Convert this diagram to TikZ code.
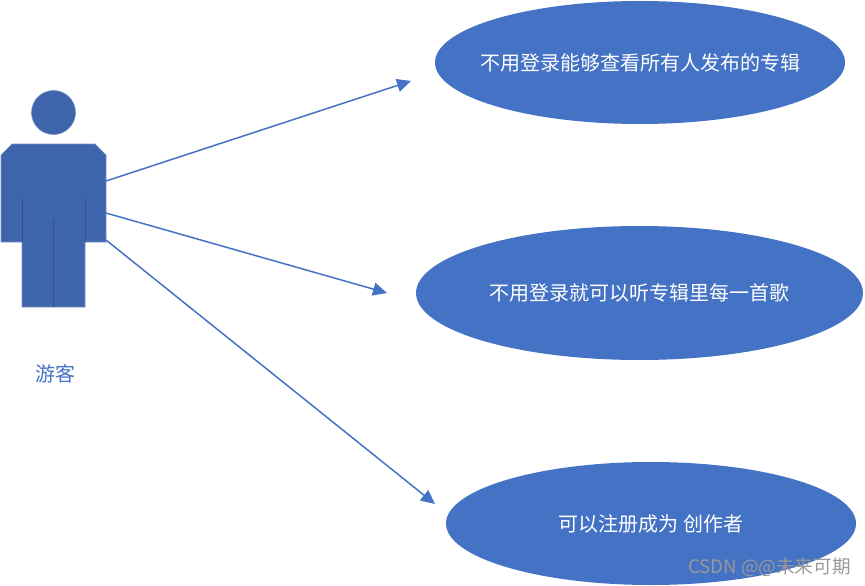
\documentclass[tikz,border=0pt]{standalone}
\usepackage{fontspec}
\setmainfont{Noto Sans CJK SC}
\usetikzlibrary{shapes.geometric,arrows.meta}
\definecolor{usecaseblue}{HTML}{4472C4}
\definecolor{actorblue}{HTML}{3E64AC}
\definecolor{actorline}{HTML}{2F528F}
\begin{document}
\begin{tikzpicture}[
      x=1pt,y=-1pt,
      linet/.style={draw=usecaseblue, line width=1.5pt, -{Triangle[length=14pt,width=13pt]},
        shorten >=0pt, shorten <=0pt},
      usecase/.style={ellipse, fill=usecaseblue, inner xsep=-30pt, inner ysep=0pt, text=white,
        font=\fontsize{20}{24}\selectfont},
      actor/.style={fill=actorblue, draw=actorblue!70!white, line width=0.6pt},
      seam/.style={draw=actorline, line width=0.7pt}
    ]
    \useasboundingbox (0,0) rectangle (865,586);
    % use cases
    \path (640,62.5) node(look) [usecase, minimum width=410pt, minimum height=123pt] {不用登录能够查看所有人发布的专辑}
    (639.5,293) node(listen) [usecase, minimum width=447pt, minimum height=134pt] {不用登录就可以听专辑里每一首歌}
    (651,523.5) node(signup) [usecase, minimum width=410pt, minimum height=123pt] {可以注册成为 创作者};
    % visitor
    \draw[actor] (53.5,112.5) circle (22);
    \draw[actor] (12,144) -- (95,144) -- (106,155) -- (106,242) -- (85,242) -- (85,307)
      -- (22,307) -- (22,242) -- (1,242) -- (1,155) -- cycle;
    \draw[seam] (22,198) -- (22,242);
    \draw[seam] (85,198) -- (85,242);
    \draw[seam] (53.5,220) -- (53.5,307);
    \node(visitor) [text=usecaseblue, font=\fontsize{20}{24}\selectfont] at (55,373.5) {游客};
    % arrows
    \coordinate (a) at (106,181);
    \coordinate (b) at (106,213);
    \coordinate (c) at (106,240);
    \coordinate (lookend) at (411,81);
    \coordinate (listenend) at (387,293);
    \coordinate (signupend) at (435,504);
    \draw[linet] (a) -- (lookend);
    \draw[linet] (b) -- (listenend);
    \draw[linet] (c) -- (signupend);
    \node(mark) [text=black!40, font=\fontsize{18.6}{22}\selectfont, inner sep=0pt] at (769.5,567) {CSDN @@未来可期};
\end{tikzpicture}
\end{document}
